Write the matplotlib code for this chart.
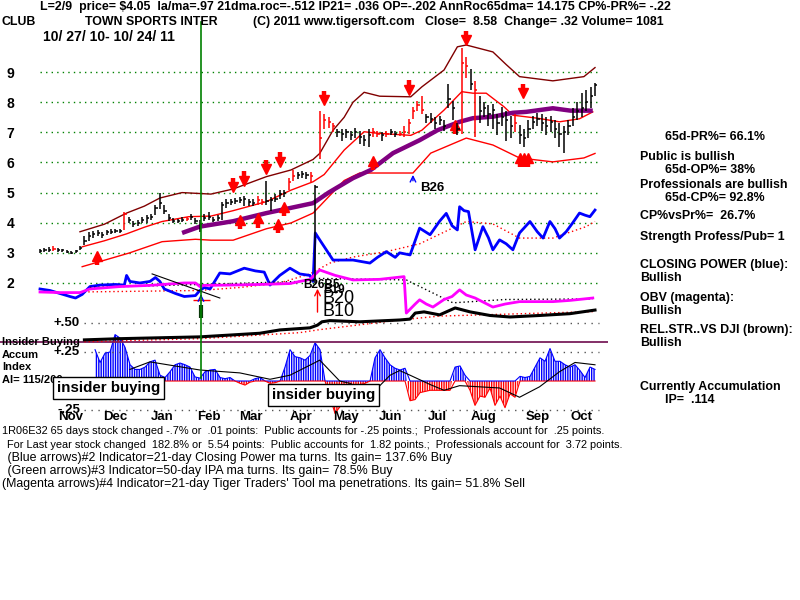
import matplotlib
matplotlib.use("Agg")
import matplotlib.pyplot as plt
import numpy as np

# ------------------------------------------------------------------ data
months = ["Nov", "Dec", "Jan", "Feb", "Mar", "Apr", "May", "Jun", "Jul", "Aug", "Sep", "Oct"]
month_days = [14, 34, 55, 76, 95, 117.5, 138, 158, 179, 200, 224, 244]
price_levels = [2, 3, 4, 5, 6, 7, 8, 9]

bar_close = [3.05, 3.08, 3.10, 3.12, 3.10, 3.08, 3.02, 3.00, 3.05, 3.15,
             3.40, 3.55, 3.62, 3.65, 3.60, 3.68, 3.70, 3.72, 3.74, 4.30,
             4.10, 3.95, 4.00, 4.10, 4.15, 4.20, 4.50, 4.65, 4.40, 4.15,
             4.05, 4.05, 4.10, 4.12, 4.20, 4.05, 3.95, 4.15, 4.20, 4.10,
             4.15, 4.60, 4.65, 4.70, 4.72, 4.75, 4.80, 4.70, 4.65, 4.75,
             4.70, 4.72, 4.75, 4.80, 4.95, 5.00, 5.35, 5.55, 5.60, 5.62,
             5.60, 5.55, 5.20, 6.80, 7.40, 7.35, 7.20, 7.00, 6.95, 7.00,
             6.90, 7.00, 6.85, 6.75, 6.90, 7.00, 6.95, 6.90, 6.95, 7.00,
             6.95, 6.95, 7.00, 7.30, 7.70, 7.90, 7.75, 7.50, 7.45, 7.30,
             7.40, 7.20, 8.10, 7.80, 7.10, 9.30, 9.20, 8.60, 8.40, 7.70,
             7.80, 7.60, 7.75, 7.30, 7.50, 7.40, 7.20, 7.30, 6.90, 6.80,
             7.10, 7.35, 7.45, 7.30, 7.20, 7.35, 7.10, 6.95, 7.00, 7.20,
             7.50, 7.70, 7.80, 8.00, 8.20, 8.58]
bar_high = [3.12, 3.15, 3.18, 3.22, 3.16, 3.14, 3.08, 3.05, 3.10, 3.22,
            3.55, 3.70, 3.72, 3.75, 3.70, 3.76, 3.78, 3.80, 3.80, 4.35,
            4.20, 4.05, 4.10, 4.20, 4.25, 4.30, 4.60, 4.98, 4.60, 4.30,
            4.15, 4.12, 4.18, 4.20, 4.30, 4.15, 4.10, 4.30, 4.35, 4.20,
            4.25, 4.70, 4.80, 4.80, 4.82, 4.85, 4.90, 4.80, 4.78, 4.90,
            4.80, 5.40, 4.85, 4.95, 5.10, 5.10, 5.50, 5.75, 5.70, 5.72,
            5.70, 5.70, 5.25, 7.70, 7.60, 7.50, 7.30, 7.10, 7.10, 7.10,
            7.05, 7.15, 7.05, 6.90, 7.10, 7.15, 7.05, 7.00, 7.05, 7.10,
            7.05, 7.05, 7.20, 7.45, 7.85, 8.05, 8.20, 7.60, 7.65, 7.50,
            7.55, 7.40, 8.60, 8.05, 7.30, 9.80, 9.50, 9.10, 8.70, 8.20,
            8.00, 7.90, 7.95, 7.60, 7.85, 7.70, 7.55, 7.60, 7.25, 7.10,
            7.40, 7.55, 7.65, 7.60, 7.50, 7.55, 7.40, 7.30, 7.20, 7.40,
            7.80, 8.00, 8.30, 8.40, 8.50, 8.65]
bar_low = [3.00, 3.02, 3.04, 3.05, 3.04, 3.03, 2.98, 2.96, 2.98, 3.08,
           3.25, 3.40, 3.50, 3.55, 3.50, 3.60, 3.62, 3.65, 3.66, 3.75,
           4.00, 3.85, 3.90, 4.00, 4.00, 4.10, 4.25, 4.45, 4.30, 4.05,
           3.98, 3.98, 4.02, 4.05, 4.10, 3.95, 3.70, 4.05, 4.10, 4.02,
           4.05, 4.10, 4.50, 4.60, 4.62, 4.65, 4.55, 4.55, 4.55, 4.60,
           4.60, 4.60, 4.40, 4.70, 4.80, 4.85, 5.10, 5.40, 5.45, 5.50,
           5.45, 5.35, 2.00, 6.10, 7.10, 7.15, 7.00, 6.85, 6.70, 6.80,
           6.75, 6.80, 6.60, 6.55, 6.50, 6.85, 6.85, 6.70, 6.85, 6.90,
           6.85, 6.88, 6.85, 6.95, 7.45, 7.70, 7.60, 7.30, 7.30, 7.10,
           7.25, 7.05, 7.80, 7.40, 6.90, 6.95, 8.80, 8.40, 6.85, 7.30,
           7.50, 7.20, 7.10, 6.90, 7.20, 6.70, 6.80, 7.00, 6.60, 6.50,
           6.80, 7.10, 7.20, 7.05, 6.90, 7.00, 6.80, 6.50, 6.30, 6.90,
           7.20, 7.40, 7.50, 7.70, 7.80, 8.20]
red_bars = [3, 19, 33, 49, 50, 56, 57, 61, 63, 64, 65, 66, 75, 76, 78, 81, 82,
            83, 84, 85, 86, 95, 96, 98, 107]

upper_days = [18, 29, 39, 47, 54, 64, 77, 87, 102, 113, 123, 126, 132, 137, 141, 146,
              153, 167, 172, 182, 188, 192, 204, 210, 216, 231, 245, 250]
upper_band = [3.70, 3.95, 4.32, 4.55, 4.82, 5.00, 4.95, 5.12, 5.53, 5.75, 6.10, 6.30,
              7.07, 7.50, 8.00, 8.33, 8.20, 8.18, 8.51, 9.07, 9.84, 9.90, 9.67, 9.25,
              8.85, 8.71, 8.85, 9.15]
middle_days = [19, 29, 39, 47, 55, 67, 77, 87, 102, 113, 123, 128, 137, 146, 152, 167,
               172, 182, 190, 195, 201, 204, 209, 213, 224, 234, 243, 249]
middle_band = [3.20, 3.40, 3.63, 3.85, 4.04, 4.20, 4.22, 4.40, 4.70, 5.08, 5.36, 5.60,
               6.41, 7.02, 6.97, 6.90, 7.07, 7.74, 8.35, 8.30, 8.30, 8.13, 7.85, 7.57,
               7.47, 7.35, 7.45, 7.68]
lower_days = [19, 40, 55, 70, 77, 87, 102, 113, 123, 126, 130, 137, 144, 150, 168, 176,
              192, 204, 216, 231, 245, 250]
lower_band = [2.54, 2.99, 3.37, 3.45, 3.42, 3.42, 3.80, 3.99, 4.32, 4.55, 4.86, 5.40,
              5.65, 5.65, 5.65, 6.31, 6.81, 6.58, 6.15, 6.02, 6.15, 6.30]
ma65_days = [64, 72, 87, 102, 123, 130, 141, 149, 159, 171, 179, 189, 195, 204, 213,
             219, 231, 239, 249]
ma65 = [3.66, 3.87, 4.05, 4.32, 4.65, 5.00, 5.48, 5.75, 6.31, 6.74, 7.07, 7.35, 7.47,
        7.52, 7.65, 7.68, 7.80, 7.72, 7.72]

cp_days = [0, 4.5, 9, 13.5, 16, 19, 22.5, 27, 34, 38, 39, 40.5, 45, 49.5, 52, 54, 56,
           61, 65, 70, 72, 74, 76.6, 81, 85.6, 92, 97, 101, 103.6, 108, 112.6, 117,
           121.6, 123, 124, 126, 132, 141, 148.6, 152, 156, 160, 162, 166.7, 171, 175.7,
           180, 183, 185.6, 188, 189, 191, 193, 196, 199.5, 202, 204, 207, 210, 213,
           216, 220.7, 224, 226.6, 229.7, 232, 234, 237, 240, 243, 245.5, 247.7, 250]
closing_power = [1.80, 1.75, 1.65, 1.55, 1.50, 1.62, 1.88, 1.93, 1.95, 1.93, 2.25, 2.05,
                 2.00, 2.05, 2.18, 2.05, 1.80, 1.65, 1.55, 1.58, 1.75, 1.85, 1.80, 2.33,
                 2.30, 2.49, 2.40, 2.36, 1.93, 2.25, 2.49, 2.30, 2.25, 2.05, 3.66, 3.43,
                 2.76, 2.76, 2.66, 2.85, 3.04, 2.85, 3.00, 2.93, 3.82, 3.60, 4.05, 4.31,
                 3.90, 3.76, 4.53, 4.40, 4.37, 3.10, 3.87, 3.50, 3.10, 3.43, 3.30, 3.10,
                 3.66, 4.04, 3.70, 3.49, 4.04, 3.80, 3.49, 3.70, 4.00, 4.32, 4.25, 4.20, 4.42]
cp_ma_days = [18, 72, 90, 108, 121.6, 130.6, 141, 156, 171, 192, 204, 216, 231, 246, 250]
cp_ma = [1.70, 1.75, 1.85, 2.00, 2.30, 2.66, 2.86, 3.04, 3.30, 4.04, 3.96, 3.49, 3.49, 3.87, 4.04]

obv_days = [0, 9, 18, 22.5, 36, 49.5, 65, 70, 72, 74, 85.6, 99, 112.6, 117, 121.6, 126,
            133, 141, 153, 164, 165, 169, 171, 174, 177, 182, 185.6, 189, 192, 196, 200,
            204, 209.5, 216, 231, 238.7, 249]
obv = [1.70, 1.68, 1.68, 1.80, 1.88, 1.92, 2.00, 2.00, 1.88, 1.92, 1.93, 1.95, 1.98,
       2.05, 2.12, 2.43, 2.25, 2.10, 2.12, 2.21, 1.00, 1.30, 1.44, 1.30, 1.20, 1.45, 1.55,
       1.77, 1.60, 1.50, 1.35, 1.20, 1.30, 1.38, 1.38, 1.42, 1.50]
obv_ma_days = [22.5, 72, 117, 126, 165, 186, 209.5, 249]
obv_ma = [1.85, 1.95, 2.05, 2.15, 2.10, 1.34, 1.45, 1.47]
trend_days = [50.5, 81]
trend_vals = [2.30, 1.50]

rs_days = [20, 36, 54, 72, 85.6, 99, 108, 121.6, 125, 127, 130.6, 144, 153, 162, 166.7,
           169, 173, 180, 187, 193.7, 202.7, 211.7, 225, 238.7, 250]
rel_strength = [0.11, 0.15, 0.18, 0.21, 0.27, 0.33, 0.44, 0.51, 0.60, 0.71, 0.75, 0.71,
                0.74, 0.77, 0.80, 1.00, 1.04, 0.94, 1.17, 1.04, 0.92, 0.87, 0.92, 0.98, 1.10]
rs_ma_days = [20, 72, 117, 126, 162, 180, 250]
rs_ma = [0.05, 0.15, 0.35, 0.45, 0.77, 0.90, 1.05]

accum = [0.27, 0.16, 0.24, 0.25, 0.40, 0.37, 0.29, 0.14, 0.10, 0.10, 0.12,
         0.165, 0.18, 0.05, 0.03, 0.08, 0.14, 0.155, 0.14, 0.12, 0.035, 0.025,
         0.08, 0.095, 0.10, 0.03, 0.02, 0.03, 0.0, -0.02, -0.035, -0.01, 0.02,
         0.03, 0.0, -0.02, -0.015, 0.0, 0.12, 0.27, 0.21, 0.20, 0.18, 0.22,
         0.33, 0.27, 0.0, -0.14, -0.28, -0.22, -0.10, -0.03, -0.03, -0.03, -0.02,
         0.0, 0.20, 0.27, 0.20, 0.14, 0.11, 0.095, 0.11, -0.17, -0.16, -0.10,
         -0.09, -0.08, -0.08, -0.08, -0.08, -0.08, 0.12, 0.13, 0.05, -0.08, -0.21,
         -0.13, -0.14, -0.06, -0.21, -0.13, -0.23, -0.11, -0.14, 0.04, 0.03, 0.04,
         0.12, 0.20, 0.17, 0.28, 0.17, 0.17, 0.14, 0.12, 0.14, 0.09, 0.03,
         0.12, 0.10]
acc_ma_days = [40.5, 49.5, 72, 90, 103.6, 112.6, 124, 126, 135, 139.6, 146, 151, 157.7,
               162, 166.7, 175.7, 182, 189, 198, 207, 216, 225, 234, 241, 250]
acc_ma = [0.10, 0.165, 0.095, 0.07, 0.015, 0.05, 0.16, 0.18, 0.0, -0.02, -0.08, -0.08,
          0.05, 0.09, 0.05, -0.03, -0.08, -0.04, -0.05, -0.06, -0.14, -0.05, 0.08, 0.16, 0.14]
acc_levels = [0.50, 0.25, -0.25]
acc_labels = ["+.50", "+.25", "-.25"]
insider_level = 0.336

sell_days = [87, 92, 102, 108, 128, 166, 192, 217.6]
sell_y = [5.25, 5.48, 5.85, 6.11, 8.14, 8.50, 10.13, 8.37]
buy_days = [25.7, 90, 98, 107, 110, 150, 187, 216, 218, 220]
buy_y = [2.83, 4.02, 4.06, 3.89, 4.45, 5.98, 7.18, 6.08, 6.08, 6.08]
signal_day = 72.5

header1 = "L=2/9  price= $4.05  la/ma=.97 21dma.roc=-.512 IP21= .036 OP=-.202 AnnRoc65dma= 14.175 CP%-PR%= -.22"
header2 = [("CLUB", 2), ("TOWN SPORTS INTER", 85), ("(C) 2011 www.tigersoft.com", 253),
           ("Close=  8.58  Change= .32 Volume= 1081", 425)]
date_range = "10/ 27/ 10- 10/ 24/ 11"
right_lines = [("65d-PR%= 66.1%", 665, 137), ("Public is bullish", 640, 157),
               ("65d-OP%= 38%", 665, 170), ("Professionals are bullish", 640, 185),
               ("65d-CP%= 92.8%", 665, 198), ("CP%vsPr%=  26.7%", 640, 216),
               ("Strength Profess/Pub= 1", 640, 237), ("CLOSING POWER (blue):", 640, 265),
               ("Bullish", 640, 278), ("OBV (magenta):", 640, 298), ("Bullish", 640, 311),
               ("REL.STR..VS DJI (brown):", 640, 330), ("Bullish", 640, 343),
               ("Currently Accumulation", 640, 387), ("IP=  .114", 665, 400)]
bottom_lines = [("1R06E32 65 days stock changed -.7% or  .01 points:  Public accounts for -.25 points.;  Professionals account for  .25 points.", 2, 431),
                (" For Last year stock changed  182.8% or  5.54 points:  Public accounts for  1.82 points.;  Professionals account for  3.72 points.", 4, 445),
                (" (Blue arrows)#2 Indicator=21-day Closing Power ma turns. Its gain= 137.6% Buy", 4, 458),
                (" (Green arrows)#3 Indicator=50-day IPA ma turns. Its gain= 78.5% Buy", 4, 471),
                ("(Magenta arrows)#4 Indicator=21-day Tiger Traders' Tool ma penetrations. Its gain= 51.8% Sell", 2, 484)]
panel_labels = [("Insider Buying", 342), ("Accum", 355), ("Index", 367), ("AI= 115/200", 380)]

# ------------------------------------------------------------------ figure
W, H = 800, 600
FONT = "Liberation Sans"
fig = plt.figure(figsize=(8, 6), dpi=100)
fig.patch.set_facecolor("white")
renderer = fig.canvas.get_renderer()


def fit_size(s, w, weight="bold"):
    t = fig.text(0, 0, s, fontsize=10, fontweight=weight, family=FONT)
    bw = t.get_window_extent(renderer).width
    t.remove()
    return 10 * w / bw


def put(px, py, s, size=9, weight="bold", ha="left", **kw):
    return fig.text(px / W, 1 - py / H, s, fontsize=size, fontweight=weight, ha=ha,
                    va="center", family=FONT, color="black", **kw)


ax_left = 35 / W
ax_w = (605 - 35) / W
ax = fig.add_axes([ax_left, 1 - 345 / H, ax_w, (345 - 20) / H])
acc = fig.add_axes([ax_left, 1 - 420 / H, ax_w, (420 - 315) / H], sharex=ax)
for a in (ax, acc):
    a.patch.set_alpha(0)
    for s in a.spines.values():
        s.set_visible(False)
ax.set_xlim(-2.25, 254.5)
ax.set_ylim(-0.06, 10.73)
acc.set_ylim(-0.336, 0.569)
acc.set_zorder(0)
ax.set_zorder(1)

# price axis ticks
ax.set_yticks(price_levels)
ax.set_yticklabels([str(v) for v in price_levels], fontsize=10, fontweight="bold", family=FONT)
ax.tick_params(axis="y", length=0, pad=15)
ax.tick_params(axis="x", length=0, labelbottom=False)
acc.tick_params(length=0, labelleft=False, labelbottom=False)

# gridlines
ax.hlines(price_levels, 0, 252, colors="#008000", linestyles=(0, (1, 3)), lw=1)
acc.hlines(acc_levels, 20, 252, colors="#555555", linestyles=(0, (1, 4)), lw=1)
for v, lab in zip(acc_levels, acc_labels):
    acc.text(18, v, lab, ha="right", va="center", fontsize=9.5, fontweight="bold", family=FONT)

# green signal line
ax.axvline(signal_day, ymin=-0.1015, ymax=0.994, color="#008000", lw=1.2, clip_on=False, zorder=5)

# bands and MA
ax.plot(upper_days, upper_band, color="#800000", lw=1)
ax.plot(middle_days, middle_band, color="red", lw=1)
ax.plot(lower_days, lower_band, color="red", lw=1)
ax.plot(ma65_days, ma65, color="#800080", lw=3.2, solid_capstyle="butt")

# price bars
days = np.arange(len(bar_close)) * 2
cols = ["red" if i in red_bars else "black" for i in range(len(bar_close))]
ax.vlines(days, bar_low, bar_high, colors=cols, lw=1.1, zorder=4)
ax.hlines(bar_close, days, days + 1.0, colors=cols, lw=1.1, zorder=4)

# indicators
ax.plot(cp_ma_days, cp_ma, color="red", lw=1, ls=(0, (1, 2)))
ax.plot(cp_days, closing_power, color="#0000ff", lw=2)
ax.plot(obv_ma_days, obv_ma, color="black", lw=1, ls=(0, (1, 2)))
ax.plot(obv_days, obv, color="#ff00ff", lw=2)
ax.plot(trend_days, trend_vals, color="black", lw=0.8)
ax.plot(rs_ma_days, rs_ma, color="red", lw=1, ls=(0, (1, 2)))
ax.plot(rs_days, rel_strength, color="black", lw=2.2)

# arrows
for d, y in zip(sell_days, sell_y):
    ax.vlines(d, y + 0.02, y + 0.24, colors="red", lw=3.2)
    ax.plot(d, y - 0.08, marker="v", ms=7.5, color="red", mec="red")
for d, y in zip(buy_days, buy_y):
    ax.vlines(d, y - 0.24, y - 0.02, colors="red", lw=3.2)
    ax.plot(d, y + 0.08, marker="^", ms=7.5, color="red", mec="red")

# other signals
ax.annotate("", xy=(168, 5.68), xytext=(168, 5.30),
            arrowprops=dict(arrowstyle="->", color="#0000ff", lw=1))
ax.text(171, 5.15, "B26", fontsize=9.5, fontweight="bold", family=FONT, va="center")
ax.annotate("", xy=(signal_day, 1.72), xytext=(signal_day, 1.44),
            arrowprops=dict(arrowstyle="->", color="#0000ff", lw=1))
ax.hlines(1.44, 69, 76.6, colors="red", lw=1)
ax.vlines(signal_day, 0.84, 1.27, colors="#0a3a0a", lw=3)
ax.annotate("", xy=(125, 1.90), xytext=(125, 0.94),
            arrowprops=dict(arrowstyle="->", color="red", lw=1))
ax.text(118.5, 1.93, "B26B5", fontsize=8.5, fontweight="bold", family=FONT, va="center")
ax.text(127.5, 1.75, "B19", fontsize=8.5, fontweight="bold", family=FONT, va="center")
ax.text(127.2, 1.50, "B20", fontsize=13, family=FONT, va="center")
ax.text(127.2, 1.04, "B10", fontsize=13, family=FONT, va="center")

# accumulation histogram
acc_days = np.linspace(24.8, 250, len(accum))
acc_arr = np.array(accum)
acc.fill_between(acc_days, 0, acc_arr, where=acc_arr >= 0, interpolate=True,
                 facecolor="none", edgecolor="#0000ff", hatch="|" * 7, lw=0)
acc.fill_between(acc_days, 0, acc_arr, where=acc_arr <= 0, interpolate=True,
                 facecolor="none", edgecolor="red", hatch="|" * 7, lw=0)
acc.plot(acc_days, np.where(acc_arr > 0, acc_arr, 0), color="#0000ff", lw=0.8)
acc.plot(acc_days, np.where(acc_arr < 0, acc_arr, 0), color="red", lw=0.8)
acc.plot(acc_ma_days, acc_ma, color="black", lw=0.8)
acc.hlines(insider_level, -18, 256, colors="#7a1f5c", lw=1.3, clip_on=False, zorder=6)
for d, m in zip(month_days, months):
    acc.text(d, -0.31, m, ha="center", va="center", fontsize=9.5, fontweight="bold", family=FONT)

# ------------------------------------------------------------------ texts
hsize = fit_size(header1, 627)
put(40, 7, header1, size=hsize)
for s, x in header2:
    put(x, 22, s, size=hsize)
put(43, 37, date_range, size=fit_size(date_range, 132))

rsize = fit_size("REL.STR..VS DJI (brown):", 153)
for s, x, y in right_lines:
    put(x, y, s, size=rsize)

b12 = min(fit_size(bottom_lines[0][0], 615, weight="normal"),
          fit_size(bottom_lines[1][0], 617, weight="normal"))
b35 = fit_size(bottom_lines[4][0], 520, weight="normal")
for i, (s, x, y) in enumerate(bottom_lines):
    put(x, y, s, size=b12 if i < 2 else b35, weight="normal")

psize = fit_size("Insider Buying", 78)
for s, y in panel_labels:
    put(2, y, s, size=psize)
bx = dict(boxstyle="square,pad=0.25", fc="white", ec="black", lw=1)
isize = fit_size("insider buying", 104)
put(57, 388, "insider buying", size=isize, bbox=bx, zorder=10)
put(272, 395, "insider buying", size=isize, bbox=bx, zorder=10)

fig.savefig("out.png", dpi=100, facecolor="white")
